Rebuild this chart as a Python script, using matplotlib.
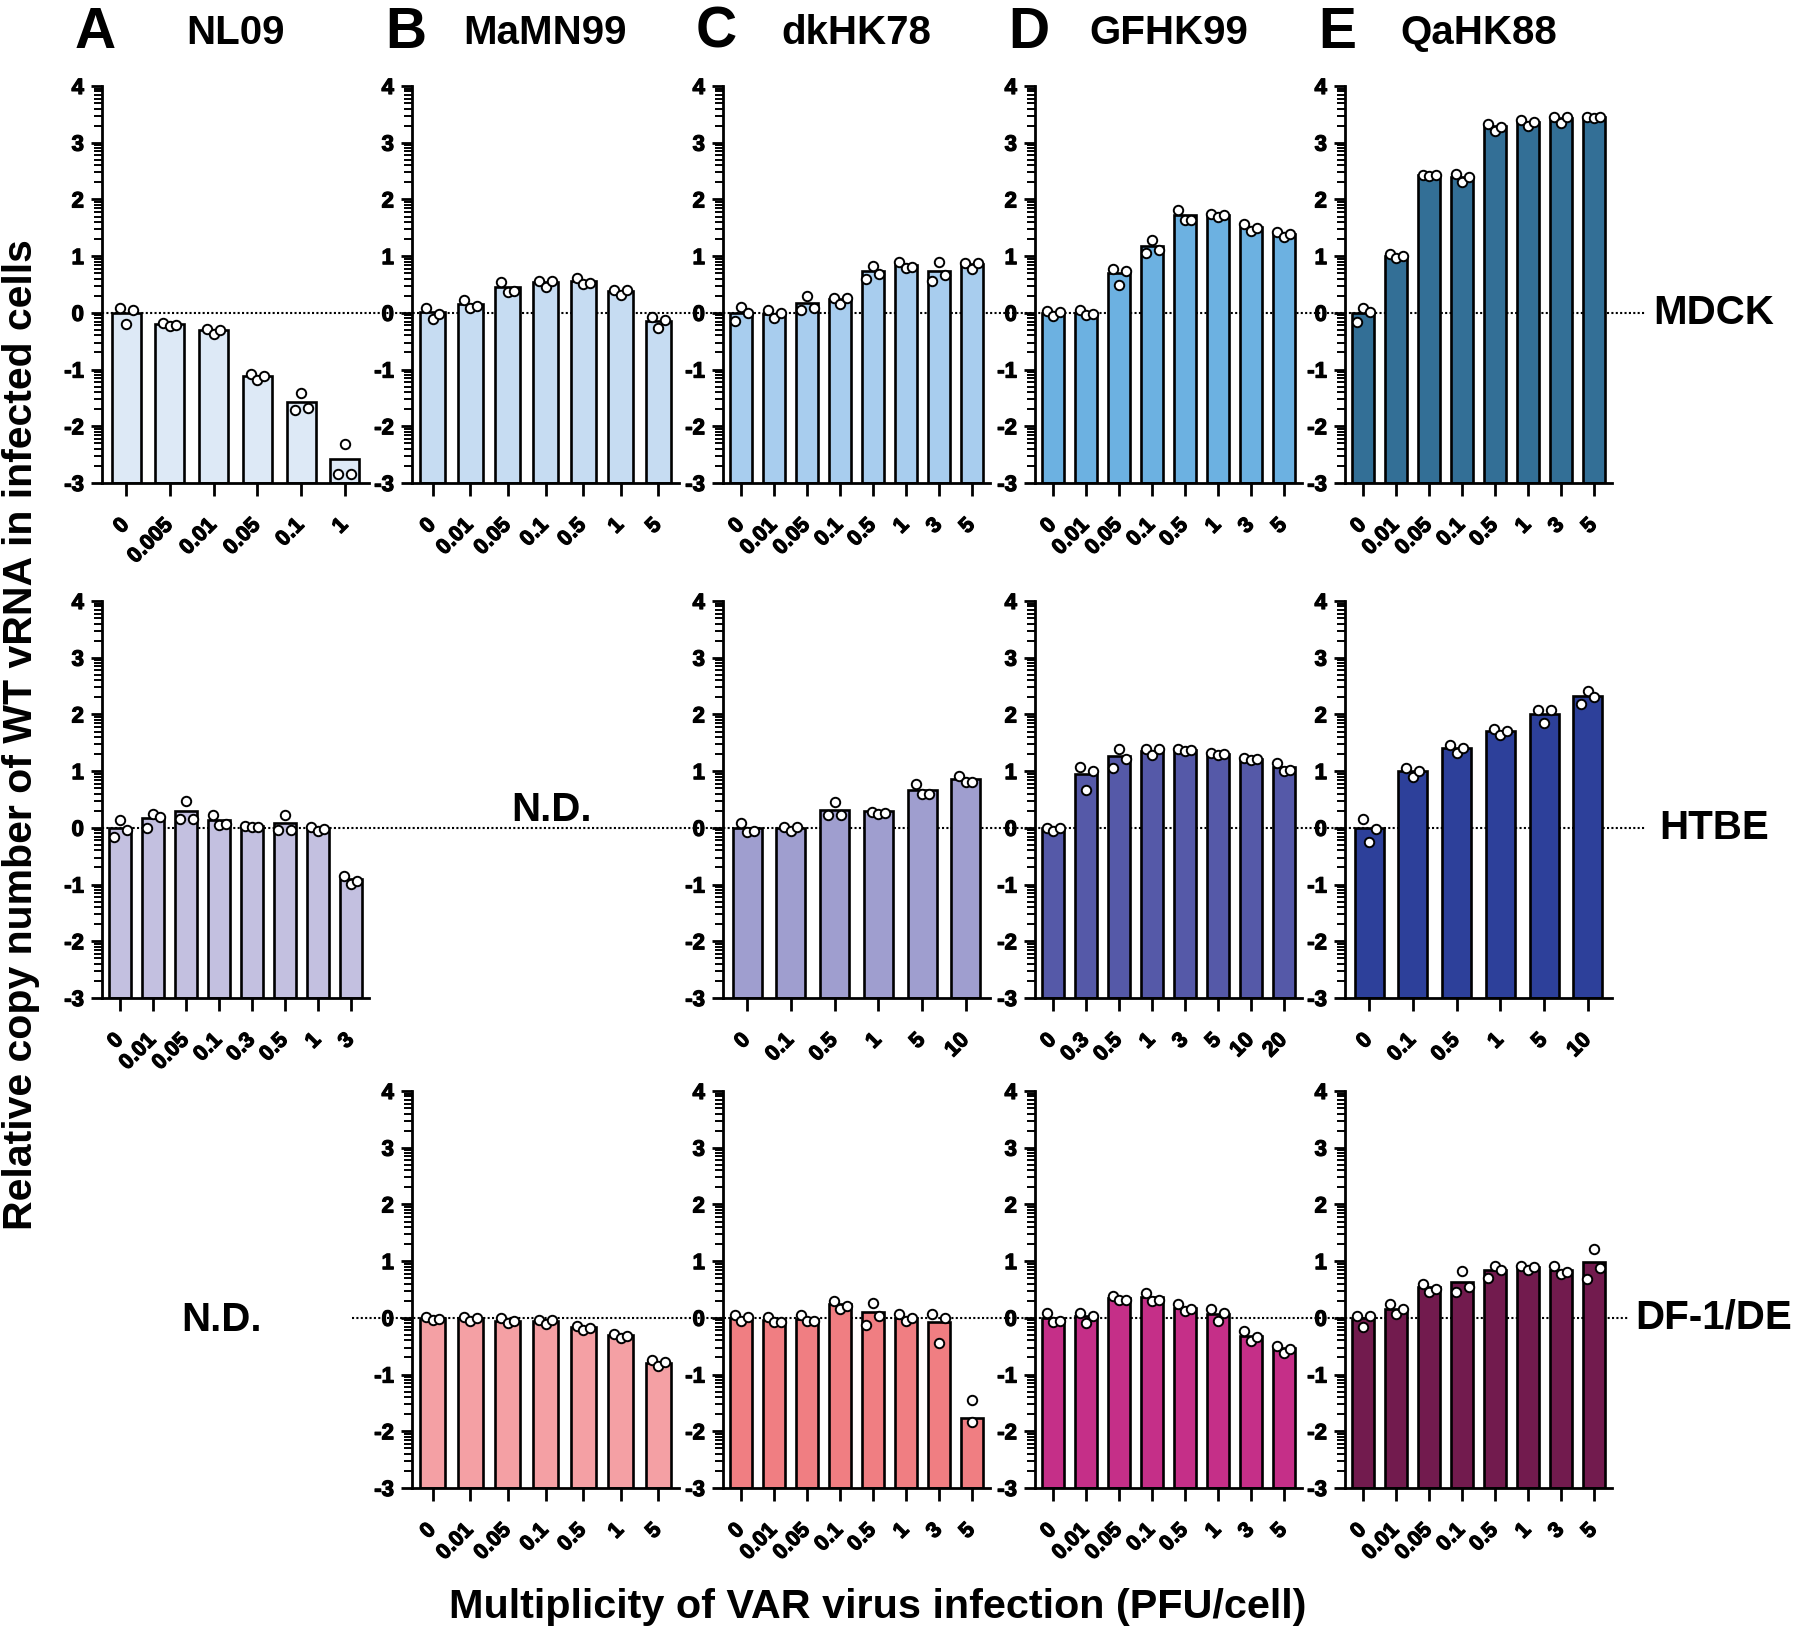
import matplotlib
matplotlib.use('Agg')
import matplotlib.pyplot as plt
import matplotlib.patheffects as pe
import numpy as np
from matplotlib.lines import Line2D
from matplotlib.transforms import blended_transform_factory

plt.rcParams['font.family'] = ['Liberation Sans', 'DejaVu Sans']
plt.rcParams['font.weight'] = 'bold'
plt.rcParams['xtick.labelsize'] = 15.5
plt.rcParams['ytick.labelsize'] = 16

# ---- data: MOI labels, bar means, replicate points (left, mid, right) ----
# MDCK row
nl09_mdck_moi = ['0', '0.005', '0.01', '0.05', '0.1', '1']
nl09_mdck_mean = [0.0, -0.19, -0.31, -1.11, -1.58, -2.57]
nl09_mdck_reps = [[0.08, -0.2, 0.05], [-0.18, -0.23, -0.21], [-0.29, -0.37, -0.31],
                  [-1.07, -1.18, -1.12], [-1.72, -1.42, -1.68], [-2.85, -2.31, -2.85]]

mamn99_mdck_moi = ['0', '0.01', '0.05', '0.1', '0.5', '1', '5']
mamn99_mdck_mean = [0.01, 0.16, 0.45, 0.54, 0.57, 0.38, -0.15]
mamn99_mdck_reps = [[0.09, -0.1, -0.02], [0.22, 0.09, 0.12], [0.55, 0.36, 0.39],
                    [0.56, 0.45, 0.56], [0.62, 0.51, 0.53], [0.41, 0.31, 0.40],
                    [-0.08, -0.27, -0.13]]

dkhk78_mdck_moi = ['0', '0.01', '0.05', '0.1', '0.5', '1', '3', '5']
dkhk78_mdck_mean = [0.0, -0.02, 0.17, 0.24, 0.73, 0.85, 0.74, 0.86]
dkhk78_mdck_reps = [[-0.15, 0.1, -0.01], [0.05, -0.09, -0.01], [0.05, 0.3, 0.08],
                    [0.27, 0.16, 0.26], [0.59, 0.83, 0.69], [0.9, 0.79, 0.8],
                    [0.56, 0.89, 0.66], [0.88, 0.78, 0.88]]

gfhk99_mdck_moi = ['0', '0.01', '0.05', '0.1', '0.5', '1', '3', '5']
gfhk99_mdck_mean = [0.0, 0.0, 0.7, 1.18, 1.72, 1.72, 1.52, 1.39]
gfhk99_mdck_reps = [[0.04, -0.06, 0.01], [0.05, -0.04, -0.02], [0.78, 0.49, 0.74],
                    [1.05, 1.29, 1.11], [1.82, 1.64, 1.64], [1.74, 1.69, 1.72],
                    [1.56, 1.45, 1.49], [1.42, 1.33, 1.39]]

qahk88_mdck_moi = ['0', '0.01', '0.05', '0.1', '0.5', '1', '3', '5']
qahk88_mdck_mean = [0.0, 1.01, 2.43, 2.4, 3.29, 3.36, 3.44, 3.46]
qahk88_mdck_reps = [[-0.16, 0.08, 0.01], [1.03, 0.96, 1.01], [2.43, 2.41, 2.43],
                    [2.44, 2.3, 2.4], [3.33, 3.2, 3.27], [3.4, 3.29, 3.37],
                    [3.45, 3.35, 3.45], [3.45, 3.44, 3.45]]

# HTBE row
nl09_htbe_moi = ['0', '0.01', '0.05', '0.1', '0.3', '0.5', '1', '3']
nl09_htbe_mean = [0.0, 0.17, 0.3, 0.14, 0.03, 0.09, -0.01, -0.91]
nl09_htbe_reps = [[-0.17, 0.14, -0.04], [-0.01, 0.24, 0.19], [0.15, 0.48, 0.15],
                  [0.22, 0.05, 0.06], [0.04, 0.01, 0.02], [-0.04, 0.23, -0.03],
                  [0.01, -0.05, -0.02], [-0.85, -0.99, -0.94]]

dkhk78_htbe_moi = ['0', '0.1', '0.5', '1', '5', '10']
dkhk78_htbe_mean = [0.0, 0.0, 0.32, 0.29, 0.67, 0.86]
dkhk78_htbe_reps = [[0.08, -0.07, -0.06], [0.02, -0.05, 0.01], [0.22, 0.45, 0.23],
                    [0.28, 0.25, 0.26], [0.77, 0.59, 0.59], [0.91, 0.81, 0.81]]

gfhk99_htbe_moi = ['0', '0.3', '0.5', '1', '3', '5', '10', '20']
gfhk99_htbe_mean = [0.0, 0.95, 1.26, 1.36, 1.38, 1.31, 1.22, 1.07]
gfhk99_htbe_reps = [[0.0, -0.05, 0.0], [1.08, 0.66, 1.0], [1.05, 1.39, 1.22],
                    [1.39, 1.29, 1.39], [1.39, 1.36, 1.37], [1.32, 1.28, 1.3],
                    [1.24, 1.19, 1.22], [1.14, 1.01, 1.02]]

qahk88_htbe_moi = ['0', '0.1', '0.5', '1', '5', '10']
qahk88_htbe_mean = [0.0, 1.0, 1.41, 1.71, 2.01, 2.32]
qahk88_htbe_reps = [[0.15, -0.25, -0.02], [1.05, 0.9, 1.01], [1.46, 1.32, 1.4],
                    [1.75, 1.64, 1.71], [2.08, 1.85, 2.08], [2.18, 2.42, 2.31]]

# DF-1/DE row
mamn99_df1_moi = ['0', '0.01', '0.05', '0.1', '0.5', '1', '5']
mamn99_df1_mean = [0.0, 0.0, -0.05, -0.05, -0.17, -0.31, -0.79]
mamn99_df1_reps = [[0.02, -0.04, -0.02], [0.02, -0.06, 0.0], [-0.01, -0.09, -0.05],
                   [-0.03, -0.1, -0.04], [-0.15, -0.22, -0.18], [-0.28, -0.35, -0.32],
                   [-0.75, -0.85, -0.78]]

dkhk78_df1_moi = ['0', '0.01', '0.05', '0.1', '0.5', '1', '3', '5']
dkhk78_df1_mean = [0.0, -0.03, -0.02, 0.24, 0.1, 0.0, -0.08, -1.77]
dkhk78_df1_reps = [[0.05, -0.06, 0.01], [0.02, -0.08, -0.08], [0.05, -0.06, -0.06],
                   [0.3, 0.15, 0.21], [-0.12, 0.26, 0.04], [0.07, -0.05, -0.01],
                   [0.06, -0.44, -0.01], [-1.44, -1.84]]

gfhk99_df1_moi = ['0', '0.01', '0.05', '0.1', '0.5', '1', '3', '5']
gfhk99_df1_mean = [0.0, 0.03, 0.35, 0.36, 0.18, 0.06, -0.32, -0.54]
gfhk99_df1_reps = [[0.08, -0.08, -0.05], [0.09, -0.09, 0.03], [0.38, 0.31, 0.32],
                   [0.44, 0.3, 0.32], [0.24, 0.12, 0.15], [0.15, -0.05, 0.08],
                   [-0.23, -0.41, -0.34], [-0.5, -0.62, -0.55]]

qahk88_df1_moi = ['0', '0.01', '0.05', '0.1', '0.5', '1', '3', '5']
qahk88_df1_mean = [0.0, 0.16, 0.54, 0.64, 0.85, 0.9, 0.85, 0.98]
qahk88_df1_reps = [[0.04, -0.17, 0.04], [0.24, 0.06, 0.15], [0.59, 0.46, 0.51],
                   [0.46, 0.82, 0.54], [0.71, 0.92, 0.85], [0.92, 0.85, 0.89],
                   [0.92, 0.78, 0.8], [0.69, 1.21, 0.88]]

viruses = ['NL09', 'MaMN99', 'dkHK78', 'GFHK99', 'QaHK88']
letters = ['A', 'B', 'C', 'D', 'E']
cells = ['MDCK', 'HTBE', 'DF-1/DE']

mdck_colors = ['#dde9f6', '#c6dcf2', '#a8cdee', '#6cb1e1', '#336f96']
htbe_colors = ['#c3c0e0', None, '#9f9ecf', '#5559a8', '#2d409a']
df1_colors = [None, '#f4a0a4', '#f07e82', '#c52f88', '#721b4e']

panels = {
    (0, 0): (nl09_mdck_moi, nl09_mdck_mean, nl09_mdck_reps),
    (0, 1): (mamn99_mdck_moi, mamn99_mdck_mean, mamn99_mdck_reps),
    (0, 2): (dkhk78_mdck_moi, dkhk78_mdck_mean, dkhk78_mdck_reps),
    (0, 3): (gfhk99_mdck_moi, gfhk99_mdck_mean, gfhk99_mdck_reps),
    (0, 4): (qahk88_mdck_moi, qahk88_mdck_mean, qahk88_mdck_reps),
    (1, 0): (nl09_htbe_moi, nl09_htbe_mean, nl09_htbe_reps),
    (1, 2): (dkhk78_htbe_moi, dkhk78_htbe_mean, dkhk78_htbe_reps),
    (1, 3): (gfhk99_htbe_moi, gfhk99_htbe_mean, gfhk99_htbe_reps),
    (1, 4): (qahk88_htbe_moi, qahk88_htbe_mean, qahk88_htbe_reps),
    (2, 1): (mamn99_df1_moi, mamn99_df1_mean, mamn99_df1_reps),
    (2, 2): (dkhk78_df1_moi, dkhk78_df1_mean, dkhk78_df1_reps),
    (2, 3): (gfhk99_df1_moi, gfhk99_df1_mean, gfhk99_df1_reps),
    (2, 4): (qahk88_df1_moi, qahk88_df1_mean, qahk88_df1_reps),
}
row_colors = [mdck_colors, htbe_colors, df1_colors]

# ---- layout (pixels) ----
W, H = 1800, 1635
fig = plt.figure(figsize=(W / 100, H / 100), dpi=100)

col_x = [102, 412, 723, 1035, 1345]
row_top = [86, 601, 1091]
ax_w, ax_h = 267, 397

# zero line extent per row (figure px)
zero_start = [102, 102, 352]
zero_end = [1645, 1645, 1628]

minor_y = [n - 1 + np.log10(k) for n in range(-2, 5) for k in range(2, 10)]
thick = [pe.withStroke(linewidth=0.9, foreground='black')]


def draw_panel(ax, moi, mean, reps, color):
    n = len(moi)
    x = np.arange(n)
    ax.bar(x, np.array(mean) + 3, bottom=-3, width=0.66, color=color,
           edgecolor='black', linewidth=1.9, zorder=2)
    pitch = ax_w / (n + 0.1)
    for i, r in enumerate(reps):
        if len(r) == 3:
            off = np.array([-1, 0, 1]) * 6.5 / pitch
        else:
            off = np.zeros(len(r))
        ax.plot(x[i] + off, r, 'o', ms=6.8, mfc='white', mec='black',
                mew=1.4, zorder=3, clip_on=False)
    ax.set_xlim(-0.55, n - 0.45)
    ax.set_ylim(-3, 4)
    ax.set_xticks(x, moi)
    ax.set_yticks(range(-3, 5), [str(v) for v in range(-3, 5)])
    ax.set_yticks(minor_y, minor=True)
    ax.tick_params(axis='y', which='major', direction='out', length=8, width=2.0, pad=5)
    ax.tick_params(axis='y', which='minor', direction='out', length=5.5, width=1.4)
    ax.tick_params(axis='x', which='major', direction='out', length=9, width=2.0,
                   pad=19, labelrotation=45)
    for lab in ax.get_xticklabels():
        lab.set_ha('right')
        lab.set_va('center')
        lab.set_rotation_mode('anchor')
        lab.set_fontweight('bold')
        lab.set_path_effects(thick)
    for lab in ax.get_yticklabels():
        lab.set_fontweight('bold')
        lab.set_path_effects(thick)
    for s in ['top', 'right']:
        ax.spines[s].set_visible(False)
    for s in ['left', 'bottom']:
        ax.spines[s].set_linewidth(2.0)
    ax.set_facecolor('none')


row_axes = {}
for (r, c), (moi, mean, reps) in panels.items():
    ax = fig.add_axes([col_x[c] / W, 1 - (row_top[r] + ax_h) / H, ax_w / W, ax_h / H])
    draw_panel(ax, moi, mean, reps, row_colors[r][c])
    row_axes.setdefault(r, ax)

# dotted zero line running through each row
for r in range(3):
    ax = row_axes[r]
    trans = blended_transform_factory(fig.transFigure, ax.transData)
    ax.add_line(Line2D([zero_start[r] / W, zero_end[r] / W], [0, 0], transform=trans,
                       color='black', lw=1.5, ls=(0, (1, 1.1)), zorder=1, clip_on=False))

# panel letters and virus names
for c in range(5):
    fig.text((col_x[c] - 27) / W, 1 - 33 / H, letters[c], fontsize=41,
             fontweight='bold', ha='left', va='center')
    fig.text((col_x[c] + ax_w / 2) / W, 1 - 33 / H, viruses[c], fontsize=29,
             fontweight='bold', ha='center', va='center')

# cell-type labels at the zero line
for r in range(3):
    ax = row_axes[r]
    trans = blended_transform_factory(fig.transFigure, ax.transData)
    fig.text(1714 / W, 0, cells[r], transform=trans, fontsize=29,
             fontweight='bold', ha='center', va='center')

fig.text(551 / W, 1 - 810 / H, 'N.D.', fontsize=29, fontweight='bold', ha='center', va='center')
fig.text(222 / W, 1 - 1320 / H, 'N.D.', fontsize=29, fontweight='bold', ha='center', va='center')

fig.text(21 / W, 1 - 735 / H, 'Relative copy number of WT vRNA in infected cells',
         rotation=90, fontsize=29.5, fontweight='bold', ha='center', va='center')
fig.text(878 / W, 1 - 1607 / H, 'Multiplicity of VAR virus infection (PFU/cell)',
         fontsize=29.8, fontweight='bold', ha='center', va='center')

fig.savefig('out.png', dpi=100, facecolor='white')
